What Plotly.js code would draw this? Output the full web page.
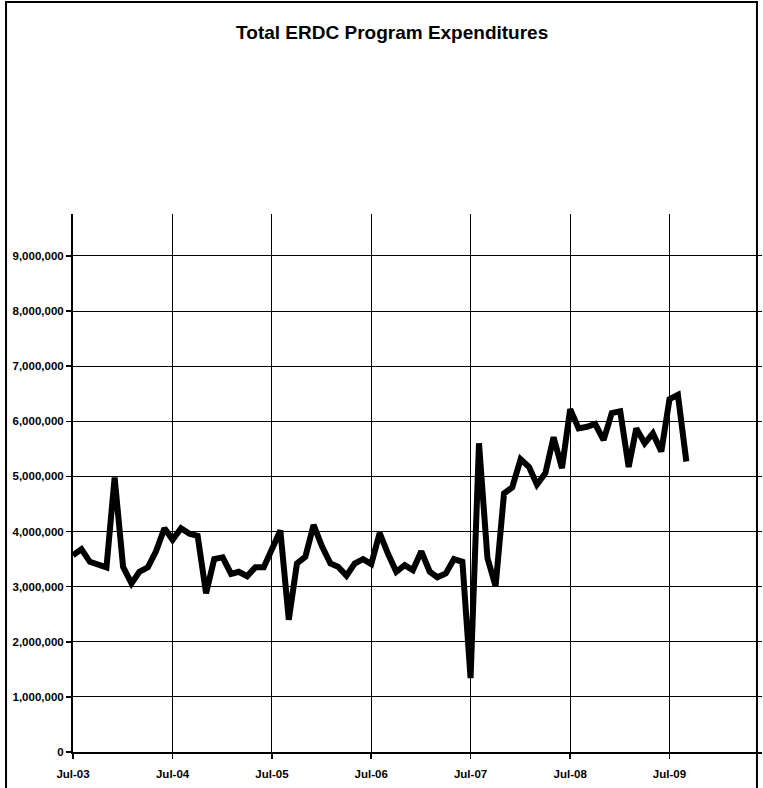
<!DOCTYPE html>
<html>
<head>
<meta charset="utf-8">
<script src="https://cdn.plot.ly/plotly-3.0.1.min.js"></script>
<style>html,body{margin:0;padding:0;background:#fff;}#chart{width:763px;height:788px;}</style>
</head>
<body>
<div id="chart"></div>
<script>
// Monthly dates, Jul-03 .. Sep-09
const months = [
 "2003-07-01","2003-08-01","2003-09-01","2003-10-01","2003-11-01","2003-12-01",
 "2004-01-01","2004-02-01","2004-03-01","2004-04-01","2004-05-01","2004-06-01",
 "2004-07-01","2004-08-01","2004-09-01","2004-10-01","2004-11-01","2004-12-01",
 "2005-01-01","2005-02-01","2005-03-01","2005-04-01","2005-05-01","2005-06-01",
 "2005-07-01","2005-08-01","2005-09-01","2005-10-01","2005-11-01","2005-12-01",
 "2006-01-01","2006-02-01","2006-03-01","2006-04-01","2006-05-01","2006-06-01",
 "2006-07-01","2006-08-01","2006-09-01","2006-10-01","2006-11-01","2006-12-01",
 "2007-01-01","2007-02-01","2007-03-01","2007-04-01","2007-05-01","2007-06-01",
 "2007-07-01","2007-08-01","2007-09-01","2007-10-01","2007-11-01","2007-12-01",
 "2008-01-01","2008-02-01","2008-03-01","2008-04-01","2008-05-01","2008-06-01",
 "2008-07-01","2008-08-01","2008-09-01","2008-10-01","2008-11-01","2008-12-01",
 "2009-01-01","2009-02-01","2009-03-01","2009-04-01","2009-05-01","2009-06-01",
 "2009-07-01","2009-08-01","2009-09-01"
];
const expenditures = [
 3570000,3680000,3450000,3410000,3350000,4980000,
 3360000,3060000,3270000,3350000,3640000,4060000,
 3850000,4060000,3960000,3920000,2880000,3500000,
 3530000,3230000,3270000,3190000,3350000,3350000,
 3670000,4020000,2400000,3420000,3540000,4120000,
 3730000,3420000,3360000,3200000,3420000,3500000,
 3410000,3970000,3590000,3270000,3390000,3300000,
 3640000,3270000,3170000,3240000,3500000,3450000,
 1340000,5600000,3520000,3010000,4690000,4800000,
 5310000,5170000,4850000,5060000,5710000,5150000,
 6220000,5870000,5900000,5950000,5660000,6150000,
 6180000,5170000,5870000,5600000,5780000,5450000,
 6400000,6480000,5270000
];
const xTickVals = ["2003-07-01","2004-07-01","2005-07-01","2006-07-01","2007-07-01","2008-07-01","2009-07-01"];
const xTickText = ["Jul-03","Jul-04","Jul-05","Jul-06","Jul-07","Jul-08","Jul-09"];
const yTickVals = [0,1000000,2000000,3000000,4000000,5000000,6000000,7000000,8000000,9000000];

const font = "Liberation Sans, Arial, sans-serif";

const trace = {
  x: months, y: expenditures, type: "scatter", mode: "lines",
  line: {color: "#000", width: 6}, hoverinfo: "skip"
};

const layout = {
  width: 763, height: 788,
  margin: {l: 73, r: 1, t: 214, b: 36},
  paper_bgcolor: "#fff", plot_bgcolor: "#fff",
  showlegend: false,
  title: {text: "Total ERDC Program Expenditures", x: 0.514, xref: "container", xanchor: "center",
          y: 0.959, yref: "container", yanchor: "middle",
          font: {family: font, size: 19, color: "#000", weight: "bold"}},
  xaxis: {
    type: "date", range: ["2003-07-01", "2010-06-06"],
    tickvals: xTickVals, ticktext: xTickText,
    showgrid: true, gridcolor: "#000", gridwidth: 1,
    showline: true, linecolor: "#000", linewidth: 2,
    ticks: "outside", ticklen: 5, tickwidth: 1.5, tickcolor: "#000",
    ticklabelstandoff: 5,
    zeroline: false,
    tickfont: {family: font, size: 11.5, color: "#000", weight: "bold"}
  },
  yaxis: {
    range: [0, 9760000],
    tickvals: yTickVals, tickformat: ",d",
    showgrid: true, gridcolor: "#000", gridwidth: 1,
    showline: true, linecolor: "#000", linewidth: 2,
    ticks: "outside", ticklen: 5, tickwidth: 1.5, tickcolor: "#000",
    zeroline: false,
    tickfont: {family: font, size: 11.5, color: "#000", weight: "bold"}
  },
  shapes: [
    {type: "rect", xref: "paper", yref: "paper", x0: -0.0972, x1: 0.9927, y0: -0.08, y1: 1.394,
     line: {color: "#000", width: 2}, fillcolor: "rgba(0,0,0,0)", layer: "below"}
  ]
};

Plotly.newPlot("chart", [trace], layout, {displayModeBar: false, staticPlot: true});
</script>
</body>
</html>
